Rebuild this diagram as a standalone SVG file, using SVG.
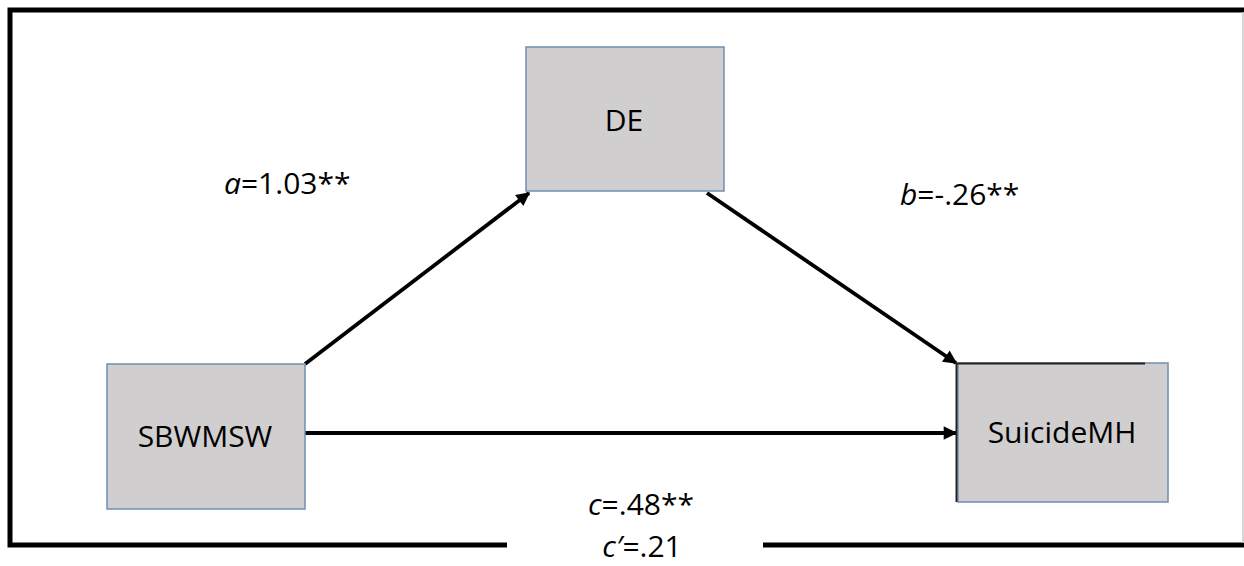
<svg xmlns="http://www.w3.org/2000/svg" width="1244" height="566" viewBox="0 0 1244 566">
<style>
.box{fill:#d0cece;stroke:#6f8fb3;stroke-width:1.5}
.nt{font-family:"Open Sans","Noto Sans",sans-serif;font-size:30px;fill:#000;text-anchor:middle}
.lb{font-family:"Open Sans","Noto Sans",sans-serif;font-size:30px;fill:#000}
.ed{stroke:#000;stroke-width:3.8;fill:none;marker-end:url(#ah)}
.fr{stroke:#000;stroke-width:5;fill:none}
</style>
<defs>
<marker id="ah" viewBox="0 0 10 10" refX="9" refY="5" markerWidth="4.2" markerHeight="3.6" orient="auto" markerUnits="strokeWidth">
<path d="M0,0 L10,5 L0,10 z" fill="#000"/>
</marker>
</defs>
<rect width="1244" height="566" fill="#fff"/>
<g id="frame">
<path class="fr" d="M507,545 H10 V10 H1244"/>
<path class="fr" d="M763,545 H1244"/>
<line x1="1243" y1="12" x2="1243" y2="543" stroke="#c8c8c8" stroke-width="1.5"/>
</g>
<g id="connectors">
<line class="ed" x1="305" y1="364" x2="529" y2="193"/>
<line class="ed" x1="707" y1="193" x2="956" y2="363"/>
<line class="ed" x1="305" y1="433" x2="956" y2="433"/>
</g>
<g id="node-de">
<rect class="box" x="526" y="47" width="198" height="144"/>
<text class="nt" x="624" y="131">DE</text>
</g>
<g id="node-sbwmsw">
<rect class="box" x="107" y="364" width="198" height="145"/>
<text class="nt" x="205" y="447">SBWMSW</text>
</g>
<g id="node-suicidemh">
<rect class="box" x="958" y="363" width="210" height="139"/>
<path d="M956.5,502 V363.5 H1145" stroke="#222" stroke-width="2" fill="none"/>
<text class="nt" x="1062" y="443">SuicideMH</text>
</g>
<g id="labels">
<text class="lb" x="224" y="194"><tspan font-style="italic">a</tspan>=1.03**</text>
<text class="lb" x="900" y="205"><tspan font-style="italic">b</tspan>=-.26**</text>
<text class="lb" x="641" y="515" text-anchor="middle"><tspan font-style="italic">c</tspan>=.48**</text>
<text class="lb" x="642" y="557" text-anchor="middle"><tspan font-style="italic">c′</tspan>=.21</text>
</g>
</svg>
